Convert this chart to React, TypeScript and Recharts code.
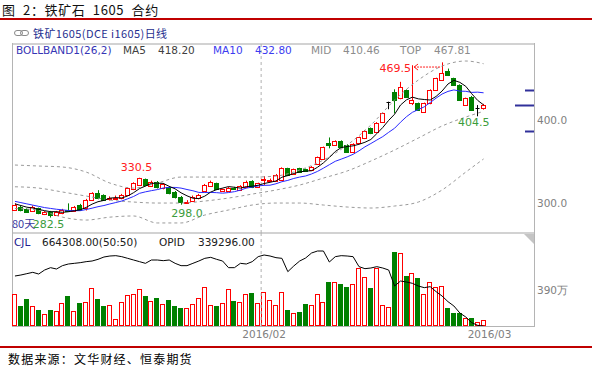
import React from "react";
import {
  ComposedChart,
  Bar,
  Line,
  XAxis,
  YAxis,
  ReferenceLine,
  ReferenceDot
} from "recharts";

// 80 daily candles of i1605
const opens = [
  291.6, 295.6, 292.4, 290.8, 293.6, 286.8, 289.6, 285.5, 287.6, 292.2,
  290.8, 297.6, 293.6, 303.6, 311.6, 309.6, 305.0, 306.0, 305.6, 309.6,
  316.5, 321.7, 328.5, 320.5, 325.7, 317.7, 319.7, 313.6, 307.6, 301.2,
  302.8, 305.6, 314.9, 321.0, 323.7, 314.9, 314.9, 318.3, 315.7, 319.0,
  326.9, 319.7, 327.7, 327.7, 327.0, 327.7, 341.8, 335.0, 341.8, 340.6,
  339.8, 347.0, 353.4, 371.9, 369.9, 374.7, 369.9, 361.8, 371.9, 377.9,
  390.0, 385.9, 398.0, 422.1, 434.1, 426.1, 436.1, 420.8, 420.1, 410.0,
  420.1, 436.1, 448.2, 459.4, 450.2, 442.2, 418.1, 428.1, 414.1, 414.1
];
const highs = [
  299.5, 297.0, 293.5, 297.0, 294.5, 290.5, 290.5, 290.5, 293.0, 299.6,
  296.5, 299.0, 305.0, 313.0, 315.5, 310.5, 308.0, 309.0, 311.0, 319.0,
  325.0, 330.5, 329.5, 327.0, 326.5, 324.0, 320.5, 314.5, 308.5, 303.5,
  309.0, 311.0, 323.0, 327.0, 324.5, 317.5, 319.5, 319.5, 321.5, 327.0,
  327.5, 324.5, 332.5, 329.5, 335.0, 343.0, 342.5, 341.5, 342.5, 341.5,
  344.5, 356.0, 368.0, 379.0, 375.5, 375.5, 371.0, 372.0, 380.0, 388.0,
  391.0, 397.5, 409.0, 422.1, 437.0, 446.0, 437.0, 466.0, 421.0, 421.0,
  437.0, 451.0, 469.5, 462.0, 451.0, 443.0, 427.0, 429.0, 418.0, 419.5
];
const lows = [
  290.5, 290.0, 288.0, 289.5, 286.5, 285.5, 282.5, 284.5, 286.5, 289.5,
  289.5, 290.5, 291.0, 302.5, 304.5, 302.5, 303.0, 304.5, 304.5, 308.5,
  315.5, 320.5, 320.5, 319.5, 317.5, 316.5, 310.5, 305.5, 298.0, 299.5,
  301.5, 304.5, 313.5, 320.0, 315.5, 313.5, 313.5, 316.0, 314.5, 318.0,
  318.0, 318.5, 321.7, 326.5, 326.0, 326.5, 332.5, 334.0, 336.5, 337.5,
  339.0, 346.0, 352.5, 365.9, 369.0, 366.0, 360.5, 360.5, 371.0, 377.0,
  383.0, 385.0, 397.0, 413.0, 408.0, 425.0, 427.0, 418.0, 411.0, 409.0,
  419.0, 435.0, 447.0, 453.0, 441.0, 423.0, 417.0, 411.0, 404.5, 412.5
];
const closes = [
  297.6, 291.6, 289.6, 295.6, 287.6, 289.6, 285.5, 289.6, 291.6, 291.0,
  295.6, 291.6, 303.6, 311.6, 305.6, 303.6, 305.8, 306.6, 309.6, 317.7,
  323.7, 329.7, 321.7, 325.7, 318.9, 322.5, 311.6, 306.8, 301.6, 301.6,
  307.6, 309.6, 321.7, 325.7, 316.5, 316.5, 318.5, 317.7, 320.5, 325.7,
  319.0, 323.7, 328.5, 328.2, 333.7, 341.8, 333.7, 340.6, 337.7, 338.5,
  343.8, 355.0, 367.1, 369.9, 374.7, 367.1, 361.8, 371.1, 379.1, 387.1,
  383.9, 396.8, 408.0, 422.1, 424.1, 439.4, 428.1, 424.1, 412.0, 420.1,
  436.1, 450.2, 456.3, 454.2, 442.2, 424.1, 426.1, 412.0, 414.1, 418.1
];

const ma5 = [
  299.0, 297.0, 295.0, 294.0, 292.4, 290.8, 289.6, 289.6, 288.8, 289.5,
  290.7, 291.9, 294.7, 298.7, 301.6, 303.2, 305.9, 306.5, 306.1, 308.5,
  312.5, 317.4, 320.5, 323.7, 323.9, 323.7, 320.1, 317.1, 312.3, 308.7,
  305.8, 305.4, 308.3, 313.2, 316.2, 318.0, 319.8, 319.0, 318.0, 319.8,
  320.3, 321.4, 323.5, 325.0, 326.6, 331.1, 333.1, 335.6, 337.5, 338.5,
  338.9, 343.1, 348.4, 354.9, 362.1, 366.8, 368.1, 368.9, 370.8, 373.2,
  376.6, 383.6, 391.0, 399.6, 407.0, 418.1, 424.3, 427.6, 425.5, 424.7,
  424.1, 428.5, 434.9, 443.4, 447.8, 445.4, 440.6, 431.7, 423.7, 418.2
];
const ma10 = [
  302.0, 300.5, 299.0, 297.5, 296.0, 294.5, 293.5, 292.5, 291.8, 291.0,
  290.8, 290.8, 292.2, 293.8, 295.6, 297.0, 298.9, 300.6, 302.4, 305.1,
  307.9, 311.7, 313.5, 314.9, 316.2, 318.1, 318.8, 318.8, 318.0, 316.3,
  314.8, 312.8, 312.7, 312.8, 312.5, 311.9, 312.6, 313.7, 315.6, 318.0,
  319.2, 320.6, 321.3, 321.5, 323.2, 325.7, 327.3, 329.6, 331.3, 332.6,
  335.0, 338.1, 342.0, 346.2, 350.3, 352.9, 355.6, 358.7, 362.9, 367.7,
  371.7, 375.9, 380.0, 385.2, 390.1, 397.4, 404.0, 409.3, 412.6, 415.9,
  421.1, 426.4, 431.3, 434.5, 436.3, 434.8, 434.6, 433.3, 433.6, 432.8
];

// Bollinger band (26,2), read at every 4th candle
const bandIndex = [0, 4, 8, 12, 16, 20, 24, 28, 32, 36, 40, 44, 48, 52, 56, 60, 64, 68, 72, 76, 79];
const bollTop = [345.8, 344.6, 343.4, 337.3, 324.1, 318.0, 324.1, 331.3, 331.3, 331.3, 331.3, 332.5, 339.8, 351.8, 369.9, 394.0, 424.1, 448.2, 465.0, 471.1, 467.81];
const bollMid = [319.6, 318.0, 313.3, 308.4, 303.6, 301.2, 300.0, 300.0, 302.4, 306.0, 310.8, 315.7, 321.7, 330.1, 338.6, 350.6, 363.9, 378.3, 392.8, 403.6, 410.46];
const bollBottom = [293.4, 291.4, 283.0, 279.5, 283.0, 284.4, 276.0, 276.0, 285.5, 291.6, 297.6, 300.0, 300.0, 297.6, 295.2, 294.0, 296.4, 301.2, 315.7, 337.3, 353.1];

// volume (万手) and open interest (万手)
const volumes = [
  347, 220, 292, 220, 173, 126, 173, 162, 246, 325,
  162, 246, 256, 408, 292, 217, 224, 76, 256, 332,
  343, 397, 325, 267, 307, 235, 278, 217, 195, 195,
  235, 300, 426, 224, 217, 246, 397, 267, 256, 343,
  354, 246, 365, 278, 224, 365, 173, 144, 155, 238,
  227, 343, 257, 480, 473, 451, 422, 451, 632, 527,
  415, 632, 227, 209, 805, 787, 542, 578, 516, 343,
  473, 426, 433, 199, 144, 137, 83, 83, 47, 66
];
const openInterest = [
  109, 110.5, 112.5, 114.5, 112, 118, 121.5, 119.5, 124.5, 127,
  128, 129, 130.5, 131.5, 134, 137.5, 139, 139.5, 138, 135.5,
  133, 130.5, 128, 133, 133, 132, 133, 128, 124.5, 124.5,
  128, 131.5, 135.5, 137, 134, 131.5, 121.5, 121.5, 128, 127,
  130.5, 138, 140.5, 139, 136.5, 135.5, 115.5, 124, 131.5, 136,
  143.5, 146.5, 146.5, 130, 138, 139.5, 139, 138, 123, 120,
  121, 123, 121, 118, 94, 101.5, 100, 98, 94, 91.5,
  93, 85.5, 79, 70.5, 64, 53.5, 47.5, 39, 35, 33.9
];

// price markers on the right edge of the price panel
const edgeMarks = [436, 418.2, 386.7];
const edgeMarkLengths = [9, 19, 9];

const monthTicks = [42, 80];
const monthLabels = ["2016/02", "2016/03"];

const SLOTS = 88;
const UP = "#ff0000";
const DOWN = "#008000";
const LATIN = '"DejaVu Sans", Verdana, sans-serif';
const CJK = '"Noto Sans CJK SC", sans-serif';

const rows = Array.from({ length: SLOTS }, (_, i) => {
  const has = i < closes.length;
  const b = bandIndex.indexOf(i);
  return {
    idx: i,
    open: has ? opens[i] : null,
    high: has ? highs[i] : null,
    low: has ? lows[i] : null,
    close: has ? closes[i] : null,
    range: has ? [lows[i], highs[i]] : null,
    ma5: has ? ma5[i] : null,
    ma10: has ? ma10[i] : null,
    top: b >= 0 ? bollTop[b] : null,
    mid: b >= 0 ? bollMid[b] : null,
    bottom: b >= 0 ? bollBottom[b] : null,
    vol: has ? volumes[i] : null,
    oi: has ? openInterest[i] : null
  };
});

const Candle = (props: any) => {
  const { x, y, width, height, payload } = props;
  if (!payload || payload.open == null) return null;
  const { open, close, high, low } = payload;
  const top = Math.min(y, y + height);
  const h = Math.abs(height);
  const span = high - low;
  const py = (v: number) => (span > 0 ? top + ((high - v) / span) * h : top);
  const color = close > open ? UP : close < open ? DOWN : "#000";
  const cx = Math.round(x + width / 2) + 0.5;
  const left = Math.round(x) + 0.5;
  const w = Math.round(width) - 1;
  const bTop = Math.round(py(Math.max(open, close))) + 0.5;
  const bBot = Math.round(py(Math.min(open, close))) + 0.5;
  if (close === open) {
    return (
      <g stroke="#000">
        <line x1={cx} x2={cx} y1={top} y2={top + h} />
        <line x1={left} x2={left + w} y1={bTop} y2={bTop} />
      </g>
    );
  }
  return (
    <g>
      <line x1={cx} x2={cx} y1={top} y2={top + h} stroke={color} />
      <rect
        x={left}
        y={bTop}
        width={w}
        height={Math.max(1, bBot - bTop)}
        fill={close > open ? "#fff" : DOWN}
        stroke={color}
      />
    </g>
  );
};

const VolumeBar = (props: any) => {
  const { x, y, width, height, payload } = props;
  if (!payload || payload.vol == null) return null;
  const up = payload.close >= payload.open;
  if (up) {
    return (
      <rect
        x={Math.round(x) + 0.5}
        y={Math.round(y) + 0.5}
        width={Math.round(width) - 1}
        height={Math.max(1, Math.round(height) - 1)}
        fill="#fff"
        stroke={UP}
      />
    );
  }
  return <rect x={Math.round(x)} y={Math.round(y)} width={Math.round(width)} height={Math.round(height)} fill={DOWN} />;
};

// short tick drawn leftwards from the panel's right edge
const edgeTick = (len: number) => (p: any) => {
  const y = Math.round(p.cy) + 0.5;
  return <line x1={534 - 12 - len} x2={534 - 12} y1={y} y2={y} stroke="#30309a" strokeWidth={2} />;
};

const note =
  (text: string, color: string, dx: number, dy: number, anchor = "middle", arrow = false) =>
  (p: any) => {
    const vb = p.viewBox || {};
    const cx = vb.x + (vb.width || 0) / 2;
    const cy = vb.y + (vb.height || 0) / 2;
    const tx = cx + dx;
    const ty = cy + dy;
    return (
      <g>
        <text
          x={tx}
          y={ty}
          fill={color}
          fontSize={11}
          fontFamily={LATIN}
          textAnchor={anchor as any}
          dominantBaseline="central"
        >
          {text}
        </text>
        {arrow && (
          <g stroke={color} fill="none">
            <line x1={tx + 3} y1={ty - 1} x2={cx - 1} y2={ty - 1} strokeDasharray="2 1" />
            <path d={`M${tx + 7},${ty - 4} L${tx + 3},${ty - 1} L${tx + 7},${ty + 2}`} />
          </g>
        )}
      </g>
    );
  };

const abs = (left: number, top: number, extra: React.CSSProperties = {}): React.CSSProperties => ({
  position: "absolute",
  left,
  top,
  whiteSpace: "pre",
  lineHeight: "13px",
  ...extra
});

const Txt = ({ x, y, c, size = 10.5, font = LATIN, children }: any) => (
  <span style={abs(x, y, { color: c, fontSize: size, fontFamily: font })}>{children}</span>
);

const App = () => {
  return (
    <div style={{ position: "relative", width: 592, height: 370, background: "#fff", overflow: "hidden" }}>
      <style>{"body{margin:0}"}</style>

      <span
        style={abs(2, 2, {
          fontSize: 13,
          fontFamily: CJK,
          color: "#111",
          lineHeight: "16px",
          letterSpacing: "0.6px",
          wordSpacing: "4px"
        })}
      >
        图 2：铁矿石 1605 合约
      </span>
      <div style={abs(0, 18, { width: 592, height: 2, background: "#c00000" })} />

      <svg style={abs(13, 28)} width={18} height={10}>
        <rect x={1.5} y={2.5} width={8} height={5} rx={2.5} fill="none" stroke="#8a8a8a" />
        <rect x={7.5} y={2.5} width={8} height={5} rx={2.5} fill="none" stroke="#8a8a8a" />
      </svg>
      <span
        style={abs(33, 26, { fontSize: 11, fontFamily: CJK, color: "#1f2f8f", lineHeight: "14px", letterSpacing: "0.4px" })}
      >
        铁矿1605(DCE i1605)日线
      </span>

      {/* panel frame */}
      <div style={abs(12, 43, { width: 523, height: 2, background: "#d2d2d2" })} />
      <div style={abs(12, 232, { width: 523, height: 2, background: "#d2d2d2" })} />
      <div style={abs(12, 326, { width: 523, height: 1, background: "#b4b4b4" })} />
      <div style={abs(12, 43, { width: 1, height: 284, background: "#b4b4b4" })} />
      <div style={abs(534, 43, { width: 1, height: 284, background: "#b4b4b4" })} />

      <div style={abs(12, 44)}>
        <ComposedChart width={580} height={189} data={rows} margin={{ top: 0, right: 0, bottom: 0, left: 0 }}>
          <XAxis dataKey="idx" hide />
          <YAxis
            orientation="right"
            domain={[263.9, 491.6]}
            ticks={[300, 400]}
            tickFormatter={(v: number) => v.toFixed(1)}
            width={58}
            axisLine={false}
            tickLine={false}
            tickSize={2}
            tickMargin={1}
            tick={{ fill: "#808080", fontSize: 10.5, fontFamily: LATIN }}
            allowDataOverflow
          />
          <ReferenceLine x={42} position="start" stroke="#b0b0b0" strokeDasharray="3 3" />
          <Line dataKey="top" type="monotone" stroke="#9a9a9a" strokeDasharray="3 3" dot={false} connectNulls isAnimationActive={false} />
          <Line dataKey="mid" type="monotone" stroke="#9a9a9a" strokeDasharray="3 3" dot={false} connectNulls isAnimationActive={false} />
          <Line dataKey="bottom" type="monotone" stroke="#9a9a9a" strokeDasharray="3 3" dot={false} connectNulls isAnimationActive={false} />
          <Bar dataKey="range" barSize={5} shape={Candle} isAnimationActive={false} />
          <Line dataKey="ma10" type="linear" stroke="#2828ff" strokeWidth={1} dot={false} isAnimationActive={false} />
          <Line dataKey="ma5" type="linear" stroke="#000" strokeWidth={1} dot={false} isAnimationActive={false} />
          {edgeMarks.map((v, k) => (
            <ReferenceDot key={`m${k}`} x={87} y={v} r={1} shape={edgeTick(edgeMarkLengths[k])} ifOverflow="visible" />
          ))}
          <ReferenceDot x={21} y={330.5} r={1} fill="none" stroke="none" label={note("330.5", "#ff2020", -3, -10)} />
          <ReferenceDot x={28} y={298.0} r={1} fill="none" stroke="none" label={note("298.0", "#3c9c3c", 6, 8.5)} />
          <ReferenceDot x={6} y={282.5} r={1} fill="none" stroke="none" label={note("282.5", "#3c9c3c", -2, 6.5)} />
          <ReferenceDot x={72} y={469.5} r={1} fill="none" stroke="none" label={note("469.5", "#ff2020", -31, 5.7, "end", true)} />
          <ReferenceDot x={78} y={404.5} r={1} fill="none" stroke="none" label={note("404.5", "#3c9c3c", -4, 6)} />
        </ComposedChart>
      </div>

      <div style={abs(12, 233)}>
        <ComposedChart width={580} height={115} data={rows} margin={{ top: 0, right: 0, bottom: 0, left: 0 }}>
          <XAxis
            dataKey="idx"
            ticks={monthTicks}
            tickFormatter={(v: number) => monthLabels[monthTicks.indexOf(v)] || ""}
            axisLine={false}
            tickLine={false}
            tickSize={3}
            height={22}
            interval={0}
            tick={{ fill: "#808080", fontSize: 10.5, fontFamily: LATIN }}
          />
          <YAxis
            yAxisId="vol"
            orientation="right"
            domain={[0, 1007.5]}
            ticks={[390]}
            tickFormatter={(v: number) => `${v}万`}
            width={58}
            axisLine={false}
            tickLine={false}
            tickSize={2}
            tickMargin={1}
            tick={{ fill: "#808080", fontSize: 10.5, fontFamily: LATIN }}
          />
          <YAxis yAxisId="oi" hide domain={[34, 173.5]} allowDataOverflow />
          <ReferenceLine yAxisId="vol" x={42} position="start" stroke="#b0b0b0" strokeDasharray="3 3" />
          <Bar yAxisId="vol" dataKey="vol" barSize={5} shape={VolumeBar} isAnimationActive={false} />
          <Line yAxisId="oi" dataKey="oi" type="linear" stroke="#000" strokeWidth={1} dot={false} isAnimationActive={false} />
        </ComposedChart>
      </div>

      <svg style={abs(524, 234)} width={11} height={11}>
        <polygon points="0,0 10,0 10,10" fill="#c4c4c4" />
      </svg>

      <Txt x={16} y={44} c="#3535b5">BOLLBAND1(26,2)</Txt>
      <Txt x={123} y={44} c="#404040">MA5</Txt>
      <Txt x={158} y={44} c="#404040">418.20</Txt>
      <Txt x={213} y={44} c="#3c3cf0">MA10</Txt>
      <Txt x={255} y={44} c="#3c3cf0">432.80</Txt>
      <Txt x={311} y={44} c="#8c8c8c">MID</Txt>
      <Txt x={343} y={44} c="#8c8c8c">410.46</Txt>
      <Txt x={400} y={44} c="#8c8c8c">TOP</Txt>
      <Txt x={434} y={44} c="#8c8c8c">467.81</Txt>
      <Txt x={12} y={217} c="#3a3aa0" size={11} font={CJK}>80天</Txt>

      <Txt x={14} y={236} c="#202090">CJL</Txt>
      <Txt x={42} y={236} c="#202020">664308.00(50:50)</Txt>
      <Txt x={159} y={236} c="#202020">OPID</Txt>
      <Txt x={198} y={236} c="#202020">339296.00</Txt>

      <div style={abs(0, 346, { width: 592, height: 2, background: "#c00000" })} />
      <span style={abs(8, 351, { fontSize: 12, fontFamily: CJK, color: "#000", lineHeight: "15px", letterSpacing: "1.2px" })}>
        数据来源：文华财经、恒泰期货
      </span>
    </div>
  );
};

export default App;
